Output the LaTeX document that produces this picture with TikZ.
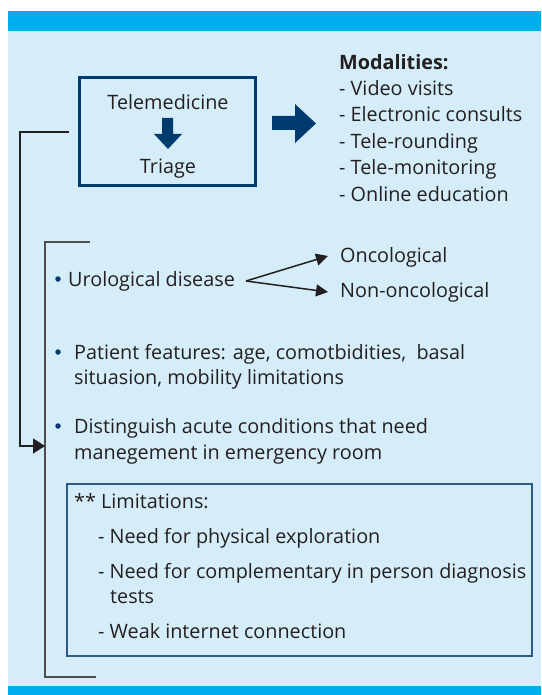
\documentclass[tikz,border=0pt]{standalone}
\usepackage{fontspec}
\setmainfont{Open Sans}
\usetikzlibrary{arrows.meta}
\definecolor{barc}{HTML}{00AEEF}
\definecolor{bgc}{HTML}{D5EDF9}
\definecolor{navy}{HTML}{003B6F}
\definecolor{textc}{HTML}{231F20}
\definecolor{limc}{HTML}{2B5C86}
\definecolor{brk}{HTML}{4D4D4D}
\tikzset{
  txt/.style={anchor=base west, inner sep=0pt, text=textc, font=\fontsize{19.8}{24}\selectfont},
  ctxt/.style={anchor=base, inner sep=0pt, text=textc, font=\fontsize{19.8}{24}\selectfont},
  blockarrow/.style={fill=navy, draw=none},
  conn/.style={draw=textc, line width=1.5pt, -{Triangle[length=12pt,width=12pt]}},
  bigconn/.style={draw=textc, line width=1.6pt, -{Triangle[length=12pt,width=15pt]}},
  bracket/.style={draw=brk, line width=1.2pt},
  dot/.style={circle, fill=navy, inner sep=0pt, minimum size=5.5pt}
}
\begin{document}
\begin{tikzpicture}[x=1pt,y=-1pt]
\useasboundingbox (0,0) rectangle (541,695);
% background and bars
\fill[bgc] (8,31) rectangle (541,686);
\fill[barc] (8,11) rectangle (541,31);
\fill[barc] (8,686) rectangle (541,695);
% Telemedicine box
\node[draw=navy, line width=2.3pt, minimum width=176pt, minimum height=108pt, inner sep=0pt] (box) at (167.5,131.5) {};
\node[ctxt] (tele) at (168,109.5) {Telemedicine};
\node[ctxt] (triage) at (168,173.5) {Triage};
\fill[blockarrow] (162,118) -- (173,118) -- (173,134) -- (182,134) -- (168,149) -- (154,134) -- (162,134) -- cycle;
% right block arrow
\fill[blockarrow] (272,116) -- (295,116) -- (295,104) -- (316,123.5) -- (295,143) -- (295,130) -- (272,130) -- cycle;
% Modalities
\node[txt, font=\fontsize{19.8}{24}\selectfont\bfseries] (m0) at (339,69.5) {Modalities:};
\node[txt] (m1) at (339,95.5) {- Video visits};
\node[txt] (m2) at (339,122) {- Electronic consults};
\node[txt] (m3) at (339,148.5) {- Tele-rounding};
\node[txt] (m4) at (339,174.5) {- Tele-monitoring};
\node[txt] (m5) at (339,201) {- Online education};
% inner bracket
\draw[bracket] (90,242) -- (45,242) -- (45,677) -- (96,677);
\coordinate (bin) at (45,446);
\coordinate (bstart) at (69,132);
\draw[bigconn] (bstart) -- (20,132) -- (20,446) -- (bin);
% bullets
\node[dot] (d1) at (58,279) {};
\node[txt] (uro) at (68,286.5) {Urological disease};
\node[txt] (onc) at (340,262.5) {Oncological};
\node[txt] (non) at (340,297.5) {Non-oncological};
\coordinate (fork) at (246,281);
\coordinate (t1) at (328,256);
\coordinate (t2) at (328,292);
\draw[conn] (fork) -- (t1);
\draw[conn] (fork) -- (t2);
\node[dot] (d2) at (58,352) {};
\node[txt] (pf1) at (74,359.5) {Patient features: age, comotbidities,\ \ basal};
\node[txt] (pf2) at (74,384.5) {situasion, mobility limitations};
\node[dot] (d3) at (58,426) {};
\node[txt] (di1) at (74,433.5) {Distinguish acute conditions that need};
\node[txt] (di2) at (74,459) {manegement in emergency room};
% limitations box
\node[draw=limc, line width=1.2pt, minimum width=465pt, minimum height=172pt, inner sep=0pt] (lim) at (299.5,570) {};
\node[txt] (l0) at (74,508.5) {** Limitations:};
\node[txt] (l1) at (98,543.5) {- Need for physical exploration};
\node[txt] (l2) at (98,578.5) {- Need for complementary in person diagnosis};
\node[txt] (l3) at (110,603.5) {tests};
\node[txt] (l4) at (98,638.5) {- Weak internet connection};
\end{tikzpicture}
\end{document}
